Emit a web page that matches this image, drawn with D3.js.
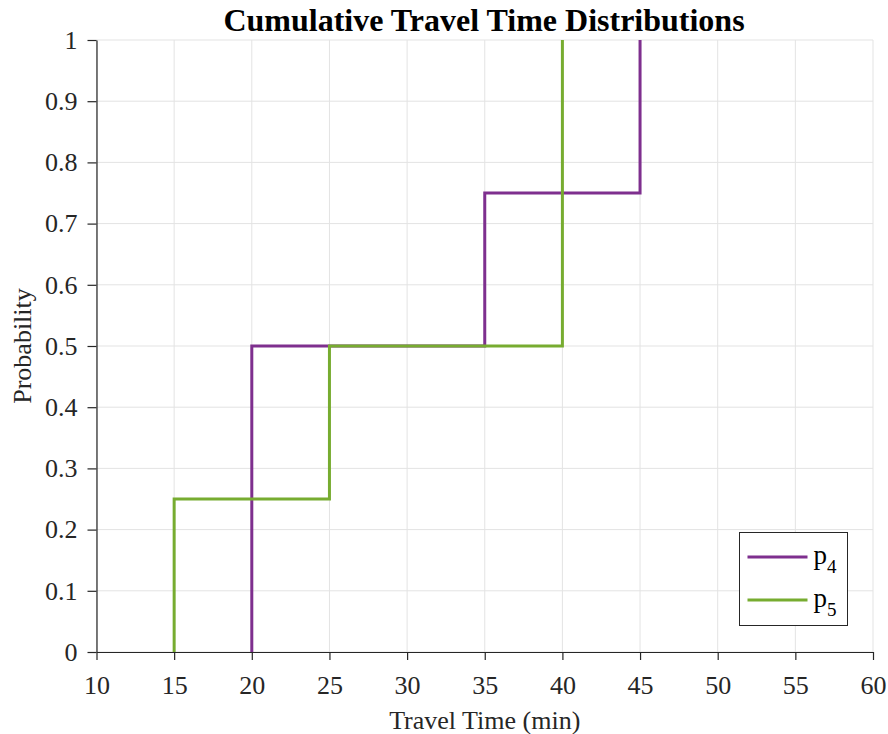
<!DOCTYPE html>
<html>
<head>
<meta charset="utf-8">
<script src="https://cdn.jsdelivr.net/npm/d3@7"></script>
<style>
  html, body { margin: 0; padding: 0; background: #fff; }
  text { font-family: "Liberation Serif", "Times New Roman", serif; }
</style>
</head>
<body>
<div id="chart"></div>
<script>
// 数据
const p4Times = [20, 20, 35, 35, 45, 45];
const p4Probs = [0, 0.5, 0.5, 0.75, 0.75, 1];
const p5Times = [15, 15, 25, 25, 40, 40];
const p5Probs = [0, 0.25, 0.25, 0.5, 0.5, 1];
const seriesNames = ["4", "5"];
const xTicks = [10, 15, 20, 25, 30, 35, 40, 45, 50, 55, 60];
const yTicks = [0, 0.1, 0.2, 0.3, 0.4, 0.5, 0.6, 0.7, 0.8, 0.9, 1];

const width = 888, height = 734;
const margin = { top: 40, right: 15, bottom: 82, left: 96.5 };

const svg = d3.select("#chart")
    .append("svg")
    .attr("width", width)
    .attr("height", height);

const x = d3.scaleLinear().domain([10, 60]).range([margin.left, width - margin.right]);
const y = d3.scaleLinear().domain([0, 1]).range([height - margin.bottom, margin.top]);

// 网格线
const grid = svg.append("g").attr("stroke", "#e3e3e3").attr("stroke-width", 1);
grid.selectAll(".gx").data(xTicks).enter().append("line")
    .attr("x1", d => x(d)).attr("x2", d => x(d))
    .attr("y1", y(0)).attr("y2", y(1));
grid.selectAll(".gy").data(yTicks).enter().append("line")
    .attr("x1", x(10)).attr("x2", x(60))
    .attr("y1", d => y(d)).attr("y2", d => y(d));

// 阶梯线
const line = d3.line().x(d => x(d[0])).y(d => y(d[1]));
const series = [
    { name: seriesNames[0], color: "#7E2F8E", pts: d3.zip(p4Times, p4Probs) },
    { name: seriesNames[1], color: "#77AC30", pts: d3.zip(p5Times, p5Probs) }
];
svg.selectAll(".series").data(series).enter().append("path")
    .attr("fill", "none")
    .attr("stroke", d => d.color)
    .attr("stroke-width", 3)
    .attr("d", d => line(d.pts));

// 坐标轴
const xAxis = svg.append("g")
    .attr("transform", `translate(0,${y(0)})`)
    .call(d3.axisBottom(x).tickValues(xTicks).tickSize(8).tickSizeOuter(0).tickPadding(16));
const yAxis = svg.append("g")
    .attr("transform", `translate(${x(10)},0)`)
    .call(d3.axisLeft(y).tickValues(yTicks).tickSize(9).tickSizeOuter(0).tickPadding(10)
        .tickFormat(d => d3.format("")(d)));
[xAxis, yAxis].forEach(a => {
    a.select(".domain").attr("stroke", "#262626").attr("stroke-width", 1.2);
    a.selectAll(".tick line").attr("stroke", "#262626").attr("stroke-width", 1.2);
    a.selectAll(".tick text")
        .attr("fill", "#262626")
        .style("font-family", '"Liberation Serif", serif')
        .style("font-size", "26px");
});

// 标题和轴标签
svg.append("text")
    .attr("x", 484)
    .attr("y", 31)
    .attr("text-anchor", "middle")
    .attr("font-weight", "bold")
    .attr("font-size", "32px")
    .attr("fill", "#000")
    .text("Cumulative Travel Time Distributions");

svg.append("text")
    .attr("x", (x(10) + x(60)) / 2)
    .attr("y", 729)
    .attr("text-anchor", "middle")
    .attr("font-size", "26px")
    .attr("fill", "#262626")
    .text("Travel Time (min)");

svg.append("text")
    .attr("transform", `translate(31,${(y(0) + y(1)) / 2}) rotate(-90)`)
    .attr("text-anchor", "middle")
    .attr("font-size", "26px")
    .attr("fill", "#262626")
    .text("Probability");

// 图例
const legend = svg.append("g").attr("transform", "translate(739.5,532.5)");
legend.append("rect")
    .attr("width", 108).attr("height", 93)
    .attr("fill", "#fff").attr("stroke", "#262626").attr("stroke-width", 1);
const items = legend.selectAll(".item").data(series).enter().append("g")
    .attr("transform", (d, i) => `translate(0,${24.5 + i * 43})`);
items.append("line")
    .attr("x1", 8).attr("x2", 68)
    .attr("stroke", d => d.color).attr("stroke-width", 3);
const lt = items.append("text")
    .attr("x", 74).attr("y", 7)
    .attr("font-size", "27px")
    .attr("fill", "#000");
lt.append("tspan").text("p");
lt.append("tspan").attr("dy", 9).attr("font-size", "19px").text(d => d.name);
</script>
</body>
</html>
